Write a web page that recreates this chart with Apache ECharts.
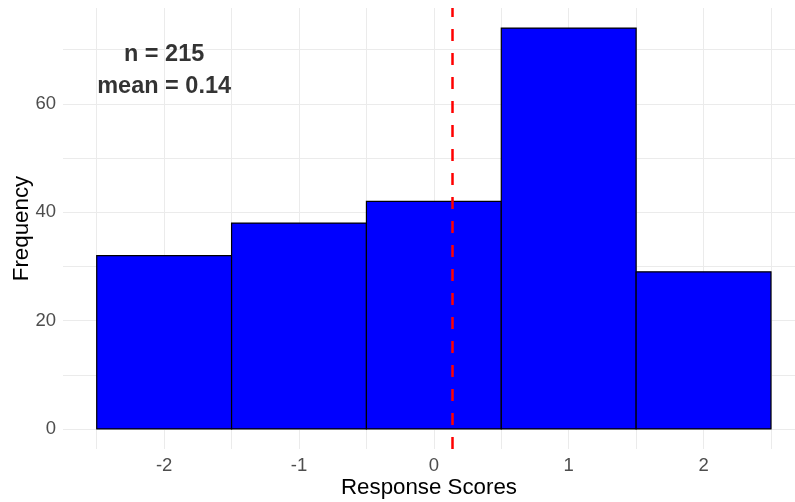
<!DOCTYPE html>
<html>
<head>
<meta charset="utf-8">
<script src="https://cdn.jsdelivr.net/npm/echarts@6/dist/echarts.min.js"></script>
<style>html,body{margin:0;padding:0;background:#fff;}#c{width:795px;height:502px;}</style>
</head>
<body>
<div id="c"></div>
<script>
const scores = [-2, -1, 0, 1, 2];
const counts = [32, 38, 42, 74, 29];
const binWidth = 1;
const meanValue = 0.14;
const nTotal = 215;
const xTickLabels = [-2, -1, 0, 1, 2];
const xGridValues = [-2.5, -2, -1.5, -1, -0.5, 0, 0.5, 1, 1.5, 2, 2.5];
const yTickLabels = [0, 20, 40, 60];
const yGridValues = [0, 10, 20, 30, 40, 50, 60, 70];
const annotationLines = ['n = ' + nTotal, 'mean = ' + meanValue.toFixed(2)];
const annotationX = -2;
const annotationY = [69.2, 63.2];

const chart = echarts.init(document.getElementById('c'), null, {renderer: 'canvas'});
const font = 'Liberation Sans, Arial, sans-serif';

chart.setOption({
  animation: false,
  backgroundColor: '#ffffff',
  grid: {left: 63, right: 0, top: 8, bottom: 53, containLabel: false, outerBoundsMode: 'none'},
  xAxis: {
    type: 'value', min: -2.75, max: 2.678,
    name: 'Response Scores', nameLocation: 'middle', nameGap: 28, nameMoveOverlap: false,
    nameTextStyle: {color: '#000', fontSize: 22.3, fontFamily: font},
    axisLine: {show: false},
    axisTick: {show: false, customValues: xGridValues},
    axisLabel: {customValues: xTickLabels, color: '#4d4d4d', fontSize: 18.5, fontFamily: font, margin: 7},
    splitLine: {show: true, lineStyle: {color: '#ebebeb', width: 1}}
  },
  yAxis: {
    type: 'value', min: -3.7, max: 77.7,
    name: 'Frequency', nameLocation: 'middle', nameGap: 30, nameMoveOverlap: false, nameRotate: 90,
    nameTextStyle: {color: '#000', fontSize: 22.3, fontFamily: font},
    axisLine: {show: false},
    axisTick: {show: false, customValues: yGridValues},
    axisLabel: {customValues: yTickLabels, color: '#4d4d4d', fontSize: 18.5, fontFamily: font, margin: 7},
    splitLine: {show: true, lineStyle: {color: '#ebebeb', width: 1}}
  },
  series: [
    {
      type: 'custom',
      data: scores.map((s, i) => [s, counts[i]]),
      renderItem: function (params, api) {
        const x = api.value(0), y = api.value(1);
        const p0 = api.coord([x - binWidth / 2, y]);
        const p1 = api.coord([x + binWidth / 2, 0]);
        return {
          type: 'rect',
          shape: {x: p0[0], y: p0[1], width: p1[0] - p0[0], height: p1[1] - p0[1]},
          style: {fill: '#0000ff', stroke: '#000000', lineWidth: 1.2}
        };
      },
      encode: {x: 0, y: 1},
      z: 2,
      markLine: {
        silent: true, symbol: 'none',
        label: {show: false},
        lineStyle: {color: '#ff0000', width: 2.5, type: [12, 12]},
        data: [{xAxis: meanValue}]
      }
    },
    {
      type: 'scatter',
      symbolSize: 0,
      data: annotationLines.map((t, i) => ({value: [annotationX, annotationY[i]], name: t})),
      label: {
        show: true, position: 'inside', formatter: p => p.name,
        color: '#000', fontSize: 23.5, fontWeight: 'bold', fontFamily: font
      },
      z: 5
    }
  ]
});
</script>
</body>
</html>
